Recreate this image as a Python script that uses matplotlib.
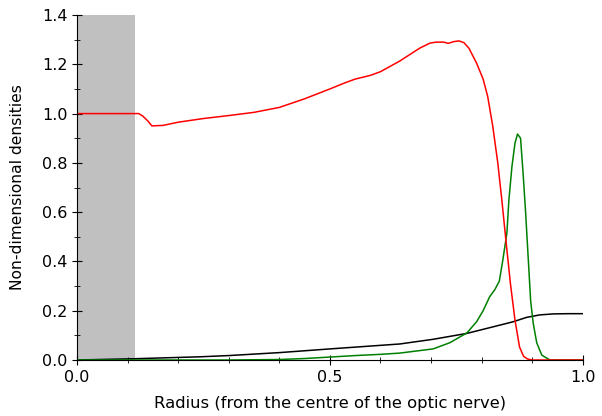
import numpy as np
import matplotlib
matplotlib.use("Agg")
import matplotlib.pyplot as plt
from matplotlib.ticker import MultipleLocator

# red density
red_r = [0.0, 0.05, 0.10, 0.122, 0.13, 0.14, 0.148, 0.17, 0.2, 0.25, 0.3, 0.35, 0.4,
         0.45, 0.5, 0.53, 0.55, 0.58, 0.6, 0.638, 0.678, 0.698, 0.71, 0.725, 0.734,
         0.745, 0.755, 0.765, 0.775, 0.79, 0.803, 0.812, 0.822, 0.832, 0.84, 0.848,
         0.857, 0.866, 0.875, 0.883, 0.891, 0.9, 0.95, 1.0]
red_v = [1.0, 1.0, 1.0, 1.0, 0.99, 0.97, 0.95, 0.952, 0.965, 0.98, 0.992, 1.005, 1.025,
         1.06, 1.1, 1.125, 1.14, 1.155, 1.17, 1.213, 1.266, 1.286, 1.29, 1.29, 1.285,
         1.292, 1.295, 1.288, 1.265, 1.205, 1.14, 1.07, 0.95, 0.8, 0.65, 0.487,
         0.31, 0.162, 0.053, 0.015, 0.004, 0.0, 0.0, 0.0]

# green density
green_r = [0.0, 0.3, 0.4, 0.45, 0.5, 0.55, 0.6, 0.638, 0.704, 0.737, 0.771, 0.79,
           0.803, 0.816, 0.826, 0.835, 0.842, 0.85, 0.854, 0.86, 0.866, 0.871, 0.877,
           0.882, 0.887, 0.892, 0.897, 0.902, 0.909, 0.919, 0.935, 1.0]
green_v = [0.0, 0.0, 0.002, 0.006, 0.012, 0.018, 0.023, 0.028, 0.045, 0.07, 0.11, 0.155,
           0.2, 0.257, 0.285, 0.32, 0.406, 0.515, 0.65, 0.785, 0.88, 0.917, 0.9,
           0.76, 0.6, 0.42, 0.24, 0.15, 0.07, 0.02, 0.0, 0.0]

# black density
black_r = [0.0, 0.11, 0.243, 0.3, 0.4, 0.5, 0.638, 0.704, 0.771, 0.837, 0.862,
           0.889, 0.915, 0.941, 0.97, 1.0]
black_v = [0.0, 0.005, 0.013, 0.018, 0.03, 0.045, 0.065, 0.084, 0.108, 0.142, 0.155,
           0.173, 0.183, 0.187, 0.188, 0.188]

shade_end = 0.114

fig = plt.figure(figsize=(6.02, 4.16), dpi=100)
ax = fig.add_axes([0.128, 0.1346, 0.84, 0.8293])

ax.axvspan(0, shade_end, color='#c0c0c0', lw=0, zorder=0)
ax.plot(black_r, black_v, color='black', lw=1.1)
ax.plot(green_r, green_v, color='green', lw=1.1)
ax.plot(red_r, red_v, color='red', lw=1.1)

ax.set_xlim(0, 1.0)
ax.set_ylim(0, 1.4)
ax.xaxis.set_major_locator(MultipleLocator(0.5))
ax.xaxis.set_minor_locator(MultipleLocator(0.1))
ax.yaxis.set_major_locator(MultipleLocator(0.2))
ax.yaxis.set_minor_locator(MultipleLocator(0.1))
ax.xaxis.set_major_formatter(plt.FormatStrFormatter('%.1f'))
ax.yaxis.set_major_formatter(plt.FormatStrFormatter('%.1f'))

for s in ['top', 'right']:
    ax.spines[s].set_visible(False)
ax.tick_params(which='major', direction='inout', length=7, labelsize=11.5)
ax.tick_params(which='minor', direction='inout', length=4)

ax.set_xlabel('Radius (from the centre of the optic nerve)', fontsize=11.8, labelpad=8)
ax.set_ylabel('Non-dimensional densities', fontsize=11.2, labelpad=12)

fig.savefig('out.png', dpi=100)
